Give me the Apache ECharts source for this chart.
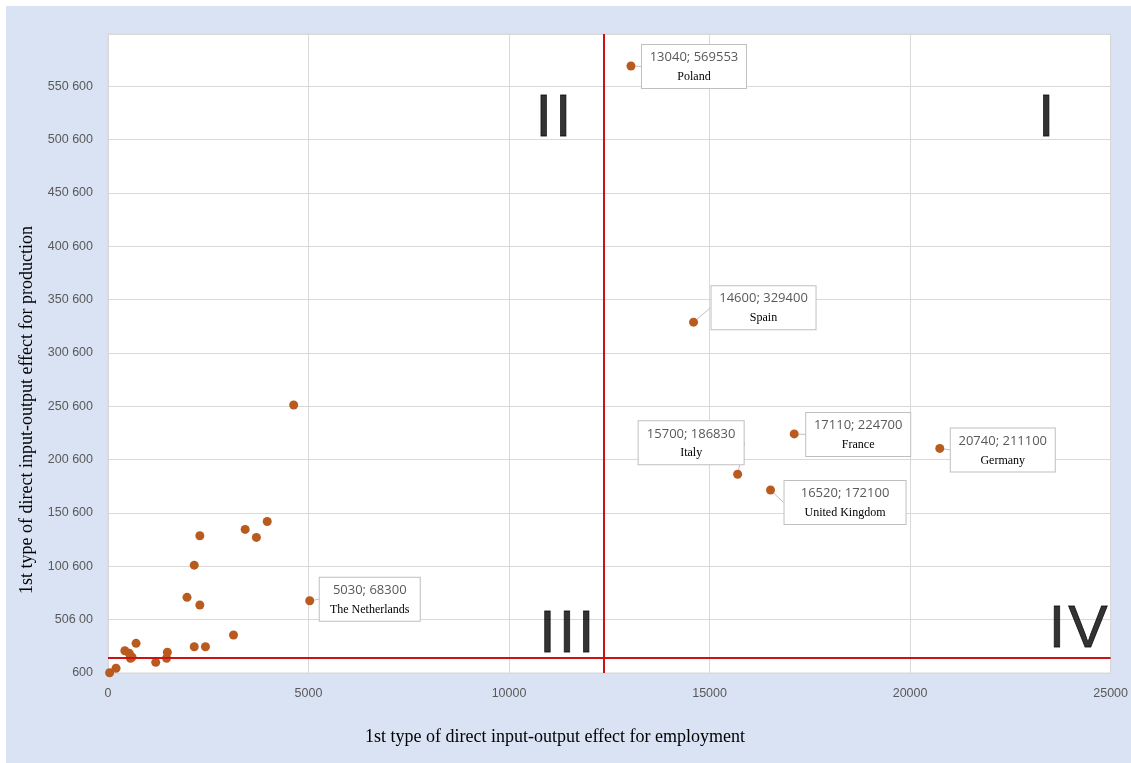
<!DOCTYPE html>
<html><head><meta charset="utf-8">
<script src="https://cdn.jsdelivr.net/npm/echarts@6/dist/echarts.min.js"></script>
<style>
html,body{margin:0;padding:0;background:#fff;overflow:hidden;}
#bg{position:absolute;left:6px;top:6px;width:1125px;height:757px;background:#dae3f3;}
#chart{position:absolute;left:0;top:0;width:1131px;height:763px;}
</style></head><body><div id="bg"></div><div id="chart"></div>
<script>
// ---- data ----
const countries = ['Poland', 'Spain', 'Italy', 'France', 'Germany', 'United Kingdom', 'The Netherlands'];
const countryEmployment = [13040, 14600, 15700, 17110, 20740, 16520, 5030];
const countryProduction = [569553, 329400, 186830, 224700, 211100, 172100, 68300];
const otherEmployment = [4630, 2290, 3420, 3700, 3970, 2150, 1970, 2290, 3130, 2150, 2430, 700, 420, 530, 560, 600, 1190, 1480, 1460, 40, 200];
const otherProduction = [251800, 129200, 135200, 127700, 142600, 101700, 71500, 64300, 36200, 25200, 25200, 28400, 21500, 19000, 14400, 15500, 10600, 20000, 14400, 800, 5000];
const xTickLabels = ['0', '5000', '10000', '15000', '20000', '25000'];
const yTickLabels = ['600', '506 00', '100 600', '150 600', '200 600', '250 600', '300 600', '350 600', '400 600', '450 600', '500 600', '550 600'];
const refEmployment = 12360;
const refProduction = 14500;
const quadrantNames = ['I', 'II', 'III', 'IV'];
const quadrantEmployment = [23396, 11107, 11443, 24192];
const quadrantProduction = [518800, 518800, 35300, 40500];
const xAxisTitle = '1st type of direct input-output effect for employment';
const yAxisTitle = '1st type of direct input-output effect for production';

// ---- label layout (styling only) ----
const labelLayout = {
  'Poland': { dx: 11, dy: -21, w: 104 },
  'Spain': { dx: 18, dy: -36, w: 104 },
  'Italy': { dx: -99, dy: -53, w: 105 },
  'France': { dx: 12, dy: -21, w: 104 },
  'Germany': { dx: 11, dy: -20, w: 104 },
  'United Kingdom': { dx: 14, dy: -9, w: 121 },
  'The Netherlands': { dx: 10, dy: -23, w: 100 }
};
const DOT = 9;
const DOT_COLOR = '#b95a1e';

const chart = echarts.init(document.getElementById('chart'), null, { renderer: 'canvas' });

const labeledData = countries.map((c, i) => {
  const L = labelLayout[c];
  return {
    name: c,
    value: [countryEmployment[i], countryProduction[i]],
    label: {
      show: true,
      position: [L.dx + DOT / 2, L.dy + DOT / 2],
      width: L.w - 12
    }
  };
});

const otherData = otherEmployment.map((x, i) => [x, otherProduction[i]]);

const option = {
  backgroundColor: 'transparent',
  animation: false,
  grid: {
    left: 108, top: 34, right: 18, bottom: 90,
    show: true, backgroundColor: '#ffffff', borderColor: '#d9d9d9', borderWidth: 1,
    containLabel: false
  },
  xAxis: {
    type: 'value', min: 0, max: 25000, interval: 5000,
    axisLine: { show: false }, axisTick: { show: false },
    splitLine: { show: true, lineStyle: { color: '#d9d9d9', width: 1 } },
    axisLabel: {
      color: '#595959', fontSize: 12.5, fontFamily: 'Liberation Sans', margin: 14,
      formatter: v => { const i = Math.round(v / 5000); return Math.abs(v - i * 5000) < 1 ? (xTickLabels[i] ?? '') : ''; }
    }
  },
  yAxis: {
    type: 'value', min: 600, max: 599500, interval: 50000,
    axisLine: { show: false }, axisTick: { show: false },
    splitLine: { show: true, lineStyle: { color: '#d9d9d9', width: 1 } },
    axisLabel: {
      color: '#595959', fontSize: 12.5, fontFamily: 'Liberation Sans', margin: 15,
      showMaxLabel: false,
      formatter: v => { const i = Math.round((v - 600) / 50000); return Math.abs(v - (600 + i * 50000)) < 1 ? (yTickLabels[i] ?? '') : ''; }
    }
  },
  graphic: [
    { type: 'text', x: 555, y: 737, style: { text: xAxisTitle, font: '18px "Liberation Serif"', fill: '#000', textAlign: 'center', textVerticalAlign: 'middle' } },
    { type: 'text', x: 27, y: 410, rotation: Math.PI / 2, style: { text: yAxisTitle, font: '18px "Liberation Serif"', fill: '#000', textAlign: 'center', textVerticalAlign: 'middle' } }
  ],
  series: [
    {
      type: 'scatter', name: 'others', symbolSize: DOT, data: otherData,
      itemStyle: { color: DOT_COLOR, opacity: 1 },
      silent: true,
      markLine: {
        silent: true, symbol: 'none', label: { show: false },
        lineStyle: { color: '#cc1212', width: 2, type: 'solid' },
        data: [{ xAxis: refEmployment }, { yAxis: refProduction }]
      },
      z: 3
    },
    {
      type: 'scatter', name: 'countries', symbolSize: DOT, data: labeledData,
      itemStyle: { color: DOT_COLOR, opacity: 1 },
      silent: true,
      label: {
        show: true,
        formatter: p => '{v|' + p.value[0] + '; ' + p.value[1] + '}\n{c|' + p.name + '}',
        backgroundColor: '#ffffff', borderColor: '#bfbfbf', borderWidth: 1,
        padding: [2, 6, 2, 6],
        align: 'left', verticalAlign: 'top',
        rich: {
          v: { fontFamily: 'Open Sans', fontSize: 13, color: '#595959', lineHeight: 21, align: 'center' },
          c: { fontFamily: 'Liberation Serif', fontSize: 12, color: '#000000', lineHeight: 18, align: 'center' }
        }
      },
      labelLine: { show: true, lineStyle: { color: '#bfbfbf', width: 1 } },
      z: 4
    },
    {
      type: 'scatter', name: 'quadrants', symbolSize: 0, silent: true,
      itemStyle: { color: '#000000' },
      data: quadrantNames.map((n, i) => ({ name: n, value: [quadrantEmployment[i], quadrantProduction[i]] })),
      label: {
        show: true, position: 'inside', color: '#000000', textBorderWidth: 0,
        formatter: p => p.name.split('').map(ch => '{q|' + ch + '}').join(''),
        rich: {
          q: { fontFamily: 'Liberation Sans', fontSize: 59, color: '#000000', textBorderColor: '#000000', textBorderWidth: 0.8, padding: [0, 1.5, 0, 1.5] }
        }
      },
      z: 5
    }
  ]
};
chart.setOption(option);
</script></body></html>
